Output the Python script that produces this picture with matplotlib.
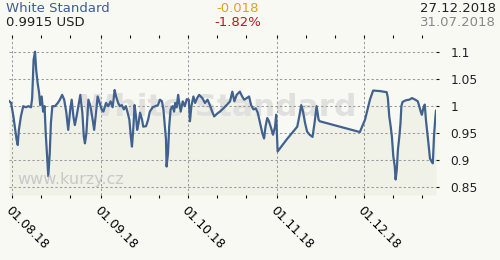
import pandas as pd
import numpy as np
import matplotlib
matplotlib.use("Agg")
import matplotlib.pyplot as plt
import matplotlib.dates as mdates
from matplotlib.ticker import FuncFormatter

# Price series (days after 31.07.2018, USD)
day_offset = [0.0, 0.7, 1.5, 2.6, 3.0, 3.4, 4.1, 4.9, 5.8, 6.7, 7.6, 8.0, 8.5, 9.0, 9.4,
              9.9, 10.4, 10.8, 11.3, 11.8, 12.3, 12.7, 13.1, 13.6, 14.1, 14.5, 15.0, 15.9,
              16.9, 17.6, 18.4, 19.1, 19.8, 20.5, 21.2, 21.7, 22.3, 22.8, 23.4, 24.0, 24.7,
              25.4, 25.9, 26.3, 26.8, 27.5, 28.2, 28.8, 29.5, 30.0, 30.7, 31.4, 32.1, 32.7,
              33.6, 34.4, 35.2, 35.9, 36.6, 37.1, 37.8, 38.4, 39.1, 39.8, 40.5, 41.0, 41.7,
              42.2, 42.6, 43.1, 43.5, 44.0, 44.4, 44.9, 45.4, 46.1, 46.5, 47.5, 48.2, 48.8,
              49.8, 50.7, 51.6, 52.3, 53.0, 53.5, 53.9, 54.4, 54.6, 55.1, 55.5, 56.0, 56.7,
              57.2, 57.6, 58.1, 58.6, 59.0, 59.5, 60.2, 60.9, 61.6, 62.3, 62.7, 63.2, 63.9,
              64.5, 65.2, 65.9, 67.0, 67.9, 68.8, 69.6, 70.4, 71.1, 72.1, 73.1, 74.3, 75.4,
              76.6, 77.4, 78.1, 78.9, 80.0, 80.8, 81.5, 82.4, 83.2, 83.9, 84.7, 85.5, 86.2,
              87.0, 87.8, 88.4, 88.9, 89.5, 90.1, 90.8, 91.5, 92.2, 92.6, 93.1, 96.2, 99.9,
              100.6, 101.3, 101.9, 102.6, 103.3, 104.2, 105.2, 105.9, 106.6, 107.3, 107.7,
              121.6, 123.4, 125.1, 126.2, 128.6, 130.9, 131.3, 131.8, 132.3, 132.7, 133.2,
              133.7, 134.0, 134.4, 134.8, 135.3, 135.7, 136.0, 136.4, 137.6, 138.7, 139.7,
              140.8, 141.7, 142.2, 142.7, 143.1, 143.6, 144.1, 144.5, 145.0, 145.5, 145.9,
              146.5, 146.9, 147.3, 147.8, 148.0]
price = [1.0095, 1.006, 0.981, 0.938, 0.928, 0.956, 0.981, 1.000, 0.998, 1.000, 0.998, 1.015,
         1.086, 1.101, 1.067, 1.043, 1.025, 1.002, 1.018, 0.990, 1.000, 0.950, 0.913, 0.870,
         0.913, 0.969, 1.000, 1.000, 1.006, 1.012, 1.021, 1.012, 0.990, 0.956, 0.994, 1.012,
         0.981, 0.965, 0.981, 1.000, 1.021, 0.988, 0.944, 0.931, 0.950, 1.012, 1.000, 0.981,
         0.956, 0.981, 1.018, 1.006, 0.994, 0.990, 1.006, 1.000, 1.009, 0.998, 1.030, 1.018,
         1.006, 1.000, 1.002, 0.994, 1.000, 0.990, 0.975, 0.944, 0.925, 0.962, 1.002, 0.981,
         0.956, 0.969, 0.988, 0.975, 0.962, 0.963, 0.975, 0.990, 0.998, 1.000, 1.002, 1.012,
         1.009, 0.994, 0.969, 0.938, 0.888, 0.913, 0.962, 0.994, 1.000, 0.990, 1.006, 0.998,
         1.021, 1.006, 0.990, 1.009, 1.000, 1.013, 1.012, 0.972, 1.000, 1.018, 1.006, 1.015,
         1.021, 1.015, 1.006, 1.012, 1.002, 0.990, 0.981, 0.986, 0.990, 0.996, 1.002, 1.009,
         1.027, 1.009, 1.021, 1.027, 1.018, 1.012, 1.015, 1.018, 1.002, 0.994, 0.996, 0.988,
         0.969, 0.950, 0.940, 0.962, 0.978, 0.972, 0.960, 0.947, 0.962, 0.984, 0.916, 0.938,
         0.962, 0.981, 1.002, 0.990, 0.969, 0.953, 0.947, 0.943, 0.969, 1.000, 0.975, 0.972,
         0.952, 0.975, 1.012, 1.029, 1.028, 1.026, 1.016, 0.981, 0.962, 0.944, 0.907, 0.888,
         0.864, 0.882, 0.919, 0.944, 0.969, 1.000, 1.008, 1.011, 1.012, 1.015, 1.012, 1.009,
         1.000, 0.990, 0.984, 0.996, 1.003, 0.975, 0.950, 0.925, 0.903, 0.897, 0.894, 0.944,
         0.981, 0.9915]

y_ticks = [0.85, 0.9, 0.95, 1.0, 1.05, 1.1]

start = pd.Timestamp("2018-07-31")
dates = start + pd.to_timedelta(day_offset, unit="D")

bg = "#f9f9f4"
line_col = "#41618f"

fig = plt.figure(figsize=(5, 2.6), dpi=100, facecolor=bg)
ax = fig.add_axes([8.5 / 500, 1 - 195 / 260, 427.5 / 500, 157 / 260])
ax.set_facecolor(bg)

x0 = mdates.date2num(start)
ax.set_xlim(x0 - 0.2, x0 + 148.0)
ax.set_ylim(0.8352, 1.1265)

# watermarks
ax.text(0.49, 0.56, "White Standard", transform=ax.transAxes, ha="center", va="center",
        fontsize=22.5, fontweight="bold", color="#e0e0de", zorder=1.0)
ax.text(0.02, 0.1, "www.kurzy.cz", transform=ax.transAxes, ha="left", va="center",
        fontsize=11.5, color="#c8c8c8", zorder=3)

ax.fill_between(dates, price, 0.8352, color="#f0f2e8", lw=0, zorder=0.6)
ax.plot(dates, price, color=line_col, lw=1.6, zorder=2)

ax.grid(True, which="major", color="#9a9a9a", linestyle=(0, (2.2, 2.2)), lw=0.75)
ax.set_axisbelow("line")
for s in ax.spines.values():
    s.set_visible(False)

ax.xaxis.set_major_locator(mdates.MonthLocator())
ax.xaxis.set_minor_locator(mdates.DayLocator(bymonthday=[11, 21]))
ax.xaxis.set_major_formatter(mdates.DateFormatter("%d.%m.%y"))
ax.tick_params(axis="x", which="both", top=True, bottom=True, direction="out",
               length=2.5, width=0.8, color="#111", labelsize=8.8, pad=4)
for lab in ax.get_xticklabels():
    lab.set_rotation(-45)
    lab.set_ha("left")
    lab.set_va("top")
    lab.set_rotation_mode("anchor")

ax.set_yticks(y_ticks)
ax.yaxis.tick_right()
ax.yaxis.set_major_formatter(FuncFormatter(lambda v, p: f"{v:g}"))
ax.tick_params(axis="y", direction="out", length=2.5, width=0.8, color="#111",
               labelsize=8.8, pad=8, labelcolor="#222")

# header
hs = 9.5
fig.text(6 / 500, 1 - 11.5 / 260, "White Standard", fontsize=hs, color="#3d5d93")
fig.text(6 / 500, 1 - 26 / 260, "0.9915 USD", fontsize=hs, color="#222222")
fig.text(238 / 500, 1 - 11.5 / 260, "-0.018", fontsize=hs, color="#e0a020", ha="center")
fig.text(238 / 500, 1 - 26 / 260, "-1.82%", fontsize=hs, color="#c0151f", ha="center")
fig.text(496 / 500, 1 - 11.5 / 260, "27.12.2018", fontsize=hs, color="#222222", ha="right")
fig.text(496 / 500, 1 - 26 / 260, "31.07.2018", fontsize=hs, color="#888888", ha="right")

fig.savefig("out.png", dpi=100, facecolor=bg)
